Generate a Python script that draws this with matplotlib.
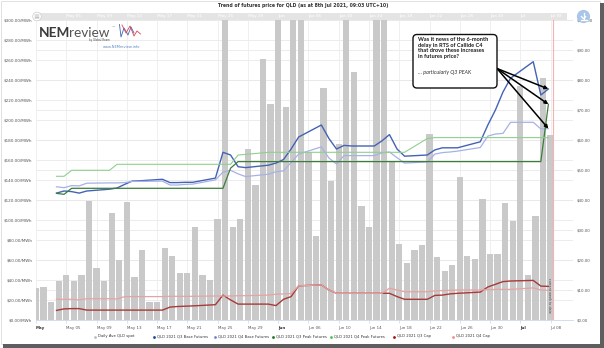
import numpy as np
import pandas as pd
import matplotlib.pyplot as plt
import matplotlib.dates as mdates
import matplotlib.transforms as mtransforms
from matplotlib.patches import FancyBboxPatch, Rectangle, Circle

# Daily average QLD spot price ($/MWh), one bar per day from 1 May 2021
spot_start = '2021-05-01'
spot = [32, 33, 18, 39, 45, 39.5, 45.5, 119, 52.5, 39, 107, 60, 118, 43, 70, 18,
        18.5, 72, 64, 47.5, 47, 93, 45, 40, 101, 360, 93, 101, 171, 135, 261,
        216, 420, 213, 380, 340, 168, 84, 232, 139, 176, 400, 248, 114, 93, 450,
        330, 158, 76.5, 57, 70.5, 75, 186, 63.5, 49, 55.5, 143, 64.5, 60.7, 121,
        66, 66.3, 117, 99, 234, 45, 104, 242, 185]

# Futures settlements ($/MWh), one value per trading day 3 May - 7 Jul 2021
trade_start = '2021-05-03'
trade_end = '2021-07-07'
q3_base = [42.3, 43.0, 42.8, 42.3, 43.0,
           43.6, 44.0, 45.2, 46.3, 46.4,
           46.9, 45.8, 45.8, 45.9, 45.9,
           47.3, 55.9, 55.0, 51.1, 50.8,
           51.6, 52.3, 53.5, 57.0, 61.0,
           65.0, 60.5, 57.0, 58.2, 58.0,
           58.0, 59.7, 61.8, 57.0, 54.6,
           55.0, 56.7, 57.4, 57.4, 57.4,
           59.4, 65.0, 70.0, 76.0, 80.6,
           86.1, 75.0, 77.0]
q4_base = [44.4, 44.1, 44.8, 44.7, 45.6,
           45.7, 45.7, 45.8, 46.2, 46.2,
           46.3, 45.0, 45.0, 45.2, 45.3,
           46.7, 49.3, 49.9, 48.7, 47.8,
           48.6, 49.4, 49.7, 52.5, 55.3,
           57.7, 54.0, 52.0, 54.8, 54.8,
           54.8, 55.7, 56.0, 54.1, 52.3,
           52.7, 55.3, 55.8, 56.0, 56.3,
           57.5, 61.3, 62.0, 62.2, 65.9,
           65.9, 63.7, 63.8]
q3_peak = [42.2, 41.9, 43.9, 43.9, 43.9,
           43.9, 43.9, 43.9, 43.9, 43.9,
           43.9, 43.9, 43.9, 43.9, 43.9,
           43.9, 43.9, 50.6, 52.8, 52.8,
           52.8, 52.8, 52.8, 52.8, 52.8,
           52.8, 52.8, 52.8, 52.8, 52.8,
           52.8, 52.8, 52.8, 52.8, 52.8,
           52.8, 52.8, 52.8, 52.8, 52.8,
           52.8, 52.8, 52.8, 52.8, 52.8,
           52.8, 52.8, 71.9]
q4_peak = [47.9, 47.9, 49.9, 49.9, 49.9,
           49.9, 51.9, 51.9, 51.9, 51.9,
           51.9, 51.9, 51.9, 51.9, 51.9,
           51.9, 51.9, 51.9, 55.0, 55.2,
           55.9, 55.9, 55.9, 55.9, 55.9,
           55.9, 55.9, 55.9, 55.9, 55.9,
           55.9, 55.9, 55.9, 55.9, 55.9,
           60.5, 60.8, 60.8, 60.8, 60.8,
           60.8, 60.8, 60.8, 60.8, 60.8,
           60.8, 60.8, 60.8]
q3_cap = [3.2, 3.7, 3.8, 3.8, 3.3,
          3.3, 3.3, 3.3, 3.3, 3.3,
          3.3, 4.3, 4.5, 4.6, 4.7,
          5.1, 8.3, 6.7, 5.3, 5.3,
          5.3, 4.8, 6.9, 7.8, 11.4,
          11.7, 10.0, 8.9, 8.9, 8.9,
          8.9, 8.9, 8.9, 7.8, 6.9,
          6.9, 8.2, 8.3, 8.7, 8.9,
          9.3, 11.0, 11.9, 12.8, 13.0,
          13.2, 11.3, 11.2]
q4_cap = [6.9, 6.9, 6.9, 6.7, 7.1,
          7.1, 7.0, 7.8, 7.8, 7.8,
          7.8, 7.9, 7.9, 7.9, 7.9,
          8.0, 8.0, 8.0, 8.1, 8.1,
          8.3, 8.6, 8.7, 8.8, 11.4,
          11.7, 10.0, 8.9, 8.9, 8.9,
          8.9, 8.9, 10.6, 10.0, 9.4,
          9.4, 9.7, 9.8, 9.9, 10.0,
          10.0, 10.1, 10.2, 10.2, 10.2,
          10.7, 10.0, 9.9]

series_names = ['QLD 2021 Q3 Base Futures', 'QLD 2021 Q4 Base Futures',
                'QLD 2021 Q3 Peak Futures', 'QLD 2021 Q4 Peak Futures',
                'QLD 2021 Q3 Cap', 'QLD 2021 Q4 Cap']
series_colors = ['#4463b5', '#a7b1e6', '#3c7d3c', '#8ed08e', '#a83a3a', '#e6a3a3']
legend_colors = ['#bdbdbd', '#1f3f9a', '#6f82d8', '#1f6f1f', '#4cc04c', '#a01010', '#f08a8a']

tick_labels = ['May', 'May 05', 'May 09', 'May 13', 'May 17', 'May 21', 'May 25',
               'May 29', 'Jun', 'Jun 06', 'Jun 10', 'Jun 14', 'Jun 18', 'Jun 22',
               'Jun 26', 'Jun 30', 'Jul', 'Jul 08']
left_ticks = list(range(0, 301, 20))
right_ticks = list(range(0, 101, 10))

spot_x = mdates.date2num(pd.date_range(spot_start, periods=len(spot)))
trade_x = mdates.date2num(pd.bdate_range(trade_start, trade_end) + pd.Timedelta(hours=17))
tick_x = mdates.date2num(pd.date_range(spot_start, periods=len(tick_labels), freq='4D'))
now_x = mdates.date2num(pd.Timestamp('2021-07-08 09:03'))
x0 = mdates.date2num(pd.Timestamp('2021-05-01'))
x1 = mdates.date2num(pd.Timestamp('2021-07-11'))

W, H = 604, 348
PL, PR, PT, PB = 36, 573.3, 20, 320
fig = plt.figure(figsize=(W / 100, H / 100), dpi=100)
ax = fig.add_axes([PL / W, 1 - PB / H, (PR - PL) / W, (PB - PT) / H])
ax2 = ax.twinx()

# bars
ax.bar(spot_x, spot, width=0.83, color='#c9c9c9', linewidth=0, zorder=2)
ax.set_xlim(x0, x1)
ax.set_ylim(0, 300)
ax2.set_ylim(0, 100)

# grid (left every 20, right every 10)
for t in left_ticks:
    ax.axhline(t, color='#e9e9e9', lw=0.6, zorder=0)
for t in right_ticks:
    ax.axhline(t * 3, color='#e9e9e9', lw=0.6, zorder=0)
for t in tick_x:
    ax.axvline(t, color='#ededed', lw=0.6, zorder=0)

for s in ['top', 'right', 'left']:
    ax.spines[s].set_visible(False)
    ax2.spines[s].set_visible(False)
ax.spines['bottom'].set_color('#ccd6eb')
ax.spines['bottom'].set_linewidth(0.6)
ax2.spines['bottom'].set_visible(False)

ax.set_yticks(left_ticks)
ax.set_yticklabels([f'${t:.2f}/MWh' for t in left_ticks])
ax2.set_yticks(right_ticks)
ax2.set_yticklabels([f'${t:.2f}' for t in right_ticks])
ax.tick_params(axis='y', length=0, labelsize=3.0, labelcolor='#555555', pad=2.6)
ax2.tick_params(axis='y', length=0, labelsize=2.9, labelcolor='#555555', pad=2.4)

ax.set_xticks(tick_x)
ax.set_xticklabels(tick_labels)
ax.tick_params(axis='x', length=2.5, width=0.5, color='#ccd6eb', labelsize=2.9,
               labelcolor='#555555', pad=1.5)
for lab in ax.get_xticklabels():
    lab.set_ha('left')
    if ' ' not in lab.get_text():
        lab.set_fontweight('bold')
        lab.set_color('#333333')

# futures lines
all_series = [q3_base, q4_base, q3_peak, q4_peak, q3_cap, q4_cap]
widths = [1.0, 0.9, 0.9, 0.8, 1.0, 0.9]
for vals, col, lw in zip(all_series, series_colors, widths):
    ax2.plot(trade_x, vals, color=col, lw=lw, zorder=3)

# current-week marker
ax2.axvline(now_x, color='#f4b3b3', lw=0.8, zorder=1)

# overlay in pixel coordinates for decorations
ov = fig.add_axes([0, 0, 1, 1], zorder=10)
ov.set_xlim(0, W)
ov.set_ylim(H, 0)
ov.axis('off')
ov.patch.set_visible(False)

px_x = mtransforms.blended_transform_factory(ax.transData, ov.transData)
ax.text(now_x - 0.35, 296, 'current week to date', transform=px_x, rotation=270,
        fontsize=2.4, color='#444444', ha='right', va='center', zorder=5)

# title
ov.text(303, 5, 'Trend of futures price for QLD (as at 8th Jul 2021, 09:03 UTC+10)',
        ha='center', va='center', fontsize=3.3, fontweight='bold', color='#333333')

# top navigator band
ov.add_patch(Rectangle((36, 13), 531, 7, fc='#e4e4e4', ec='none'))
for t, lab in zip(tick_x[1:], tick_labels[1:]):
    ov.text(t, 16.5, lab, transform=px_x, fontsize=2.7, color='#f7f7f7',
            ha='left', va='center', fontweight='bold')
ov.add_patch(Circle((37, 16.5), 4.3, fc='white', ec='#cccccc', lw=0.5))
for dy in (-1.2, 0, 1.2):
    ov.plot([35.3, 38.7], [16.5 + dy, 16.5 + dy], color='#777777', lw=0.35)
ov.add_patch(Circle((583.5, 16.5), 6.6, fc='#a9c6e8', ec='none'))
ov.plot([583.5, 583.5], [12.5, 18.5], color='white', lw=0.9)
ov.plot([581.3, 583.5, 585.7], [16.5, 18.7, 16.5], color='white', lw=0.9)
ov.plot([580.5, 586.5], [20.3, 20.3], color='white', lw=0.9)

# logo
nem = ov.text(39, 37, 'NEM', fontsize=9.8, fontweight='bold', color='#3a3a3a',
              family='Lato', va='baseline')
ov.annotate('review', xy=(1, 0), xycoords=nem, fontsize=9.8, color='#555555',
            family='Lato', va='bottom', xytext=(-1.2, 0), textcoords='offset points')
ov.text(111, 26.5, '™', fontsize=2.5, color='#555555', va='center')
ov.text(110, 40.5, 'by Global-Roam', fontsize=1.9, color='#444444', ha='right', va='center')
ov.text(121.5, 47.2, 'www.NEMreview.info', fontsize=2.6, color='#5b86c5',
        ha='center', va='center')
ov.plot([119.5, 121, 124, 128, 131, 134], [24.5, 37, 28, 35, 27, 33],
        color='#3f64b8', lw=0.6)
ov.plot([122, 126, 130, 134, 137, 140.5], [25, 33, 26, 36, 31, 34],
        color='#e0454a', lw=0.6)

# legend
leg_x = [95, 154, 215, 273, 331, 394, 453]
leg_labels = ['Daily Ave QLD spot'] + series_names
for xx, lab, col in zip(leg_x, leg_labels, legend_colors):
    ov.plot(xx, 336.5, 'o', ms=2.0, color=col, mec='none')
    ov.text(xx + 3, 336.5, lab, fontsize=2.7, color='#333333', va='center')

# callout
ov.add_patch(FancyBboxPatch((413, 34.5), 84, 53.5,
                            boxstyle='round,pad=0,rounding_size=4',
                            fc='white', ec='#111111', lw=1.0, zorder=11))
ov.text(417.5, 37.2, 'Was it news of the 6-month\ndelay in RTS of Callide C4\n'
        'that drove these increases\nin futures price?',
        fontsize=4.1, fontweight='bold', family='Lato', color='#1a1a1a',
        va='top', ha='left', linespacing=1.15, zorder=12)
ov.text(417.5, 72.7, '… particularly Q3 PEAK', fontsize=3.9, style='italic',
        family='Lato', color='#333333', va='center', ha='left', zorder=12)
for vals in [q3_base, q3_peak, q4_base]:
    ax2.annotate('', xy=(trade_x[-1], vals[-1]), xytext=(497, 68.5),
                 textcoords=ov.transData,
                 arrowprops=dict(arrowstyle='-|>', color='black', lw=1.1,
                                 mutation_scale=5, shrinkA=0, shrinkB=0), zorder=6)

# frame and shadow
ov.add_patch(Rectangle((0.5, 0.5), 599, 343.5, fill=False, ec='#dcdcdc', lw=0.6))
ov.add_patch(Rectangle((3, 344), 601, 4, fc='#5e5e5e', ec='none'))
ov.add_patch(Rectangle((600, 3), 4, 345, fc='#5e5e5e', ec='none'))

fig.savefig('out.png', dpi=100)
